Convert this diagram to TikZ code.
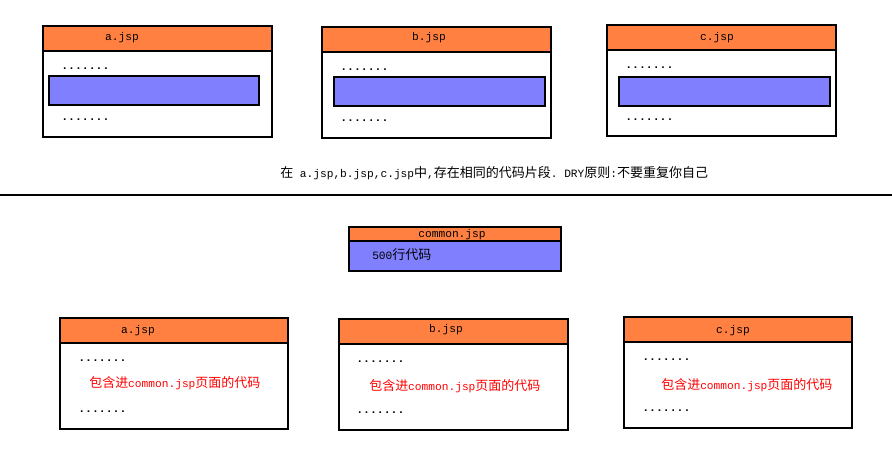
\documentclass[tikz,border=0pt]{standalone}
\usepackage{fontspec}
\setmainfont{Liberation Mono}
\newfontfamily\cjk[Scale=1.16]{Noto Sans CJK SC}
\definecolor{hdrorange}{HTML}{FF8040}
\definecolor{codeblue}{HTML}{8080FF}
\begin{document}
\begin{tikzpicture}[x=0.75pt,y=-0.75pt,
  pagebox/.style={draw=black,line width=0.8pt,fill=white},
  pagehead/.style={draw=black,line width=0.8pt,fill=hdrorange},
  codebar/.style={draw=black,line width=0.8pt,fill=codeblue},
  lbl/.style={inner sep=0pt,anchor=base,font=\fontsize{8.4}{10}\selectfont},
  dotrow/.style={inner sep=0pt,anchor=base west,font=\fontsize{8.6}{10}\selectfont\bfseries},
  note/.style={inner sep=0pt,anchor=base west,text=red,font=\fontsize{8.4}{10}\selectfont},
  txt/.style={inner sep=0pt,anchor=base west,font=\fontsize{8.4}{10}\selectfont}]
\useasboundingbox (0,0) rectangle (892,475);
\fill[white] (0,0) rectangle (892,475);

% ---------- top row ----------
% a.jsp
\draw[pagebox] (43,26) rectangle (272,137);
\draw[pagehead] (43,26) rectangle (272,51);
\draw[codebar] (49,76) rectangle (259,105);
\node[lbl] (ta) at (122,40) {a.jsp};
\node[dotrow] (ta1) at (61,69) {.......};
\node[dotrow] (ta2) at (61,120) {.......};
% b.jsp
\draw[pagebox] (322,27) rectangle (551,138);
\draw[pagehead] (322,27) rectangle (551,52);
\draw[codebar] (334,77) rectangle (545,106);
\node[lbl] (tb) at (429,40) {b.jsp};
\node[dotrow] (tb1) at (340,70) {.......};
\node[dotrow] (tb2) at (340,121) {.......};
% c.jsp
\draw[pagebox] (607,25) rectangle (836,136);
\draw[pagehead] (607,25) rectangle (836,50);
\draw[codebar] (619,77) rectangle (830,106);
\node[lbl] (tc) at (717,40) {c.jsp};
\node[dotrow] (tc1) at (625,68) {.......};
\node[dotrow] (tc2) at (625,120) {.......};

% ---------- caption and separator ----------
\node[txt] (caption) at (280,177) {{\cjk 在}\hspace{5pt}a.jsp,b.jsp,c.jsp{\cjk 中},{\cjk 存在相同的代码片段}.\ DRY{\cjk 原则}:{\cjk 不要重复你自己}};
\coordinate (sepL) at (0,195);
\coordinate (sepR) at (892,195);
\draw[line width=0.9pt] (sepL) -- (sepR);

% ---------- common.jsp ----------
\draw[draw=black,line width=1.5pt,fill=codeblue] (349,227) rectangle (561,271);
\draw[draw=black,line width=1.2pt,fill=hdrorange] (349,227) rectangle (561,241);
\node[lbl] (common) at (452,237) {common.jsp};
\node[txt] (lines) at (372,259) {500{\cjk 行代码}};

% ---------- bottom row ----------
% a.jsp
\draw[pagebox] (60,318) rectangle (288,429);
\draw[pagehead] (60,318) rectangle (288,343);
\node[lbl] (ba) at (138,333) {a.jsp};
\node[dotrow] (ba1) at (78,361) {.......};
\node[note] (ban) at (89,387) {{\cjk 包含进}common.jsp{\cjk 页面的代码}};
\node[dotrow] (ba2) at (78,412) {.......};
% b.jsp
\draw[pagebox] (339,319) rectangle (568,430);
\draw[pagehead] (339,319) rectangle (568,344);
\node[lbl] (bb) at (446,332) {b.jsp};
\node[dotrow] (bb1) at (356,362) {.......};
\node[note] (bbn) at (369,390) {{\cjk 包含进}common.jsp{\cjk 页面的代码}};
\node[dotrow] (bb2) at (356,413) {.......};
% c.jsp
\draw[pagebox] (624,317) rectangle (852,428);
\draw[pagehead] (624,317) rectangle (852,342);
\node[lbl] (bc) at (733,333) {c.jsp};
\node[dotrow] (bc1) at (642,360) {.......};
\node[note] (bcn) at (661,389) {{\cjk 包含进}common.jsp{\cjk 页面的代码}};
\node[dotrow] (bc2) at (642,411) {.......};
\end{tikzpicture}
\end{document}
